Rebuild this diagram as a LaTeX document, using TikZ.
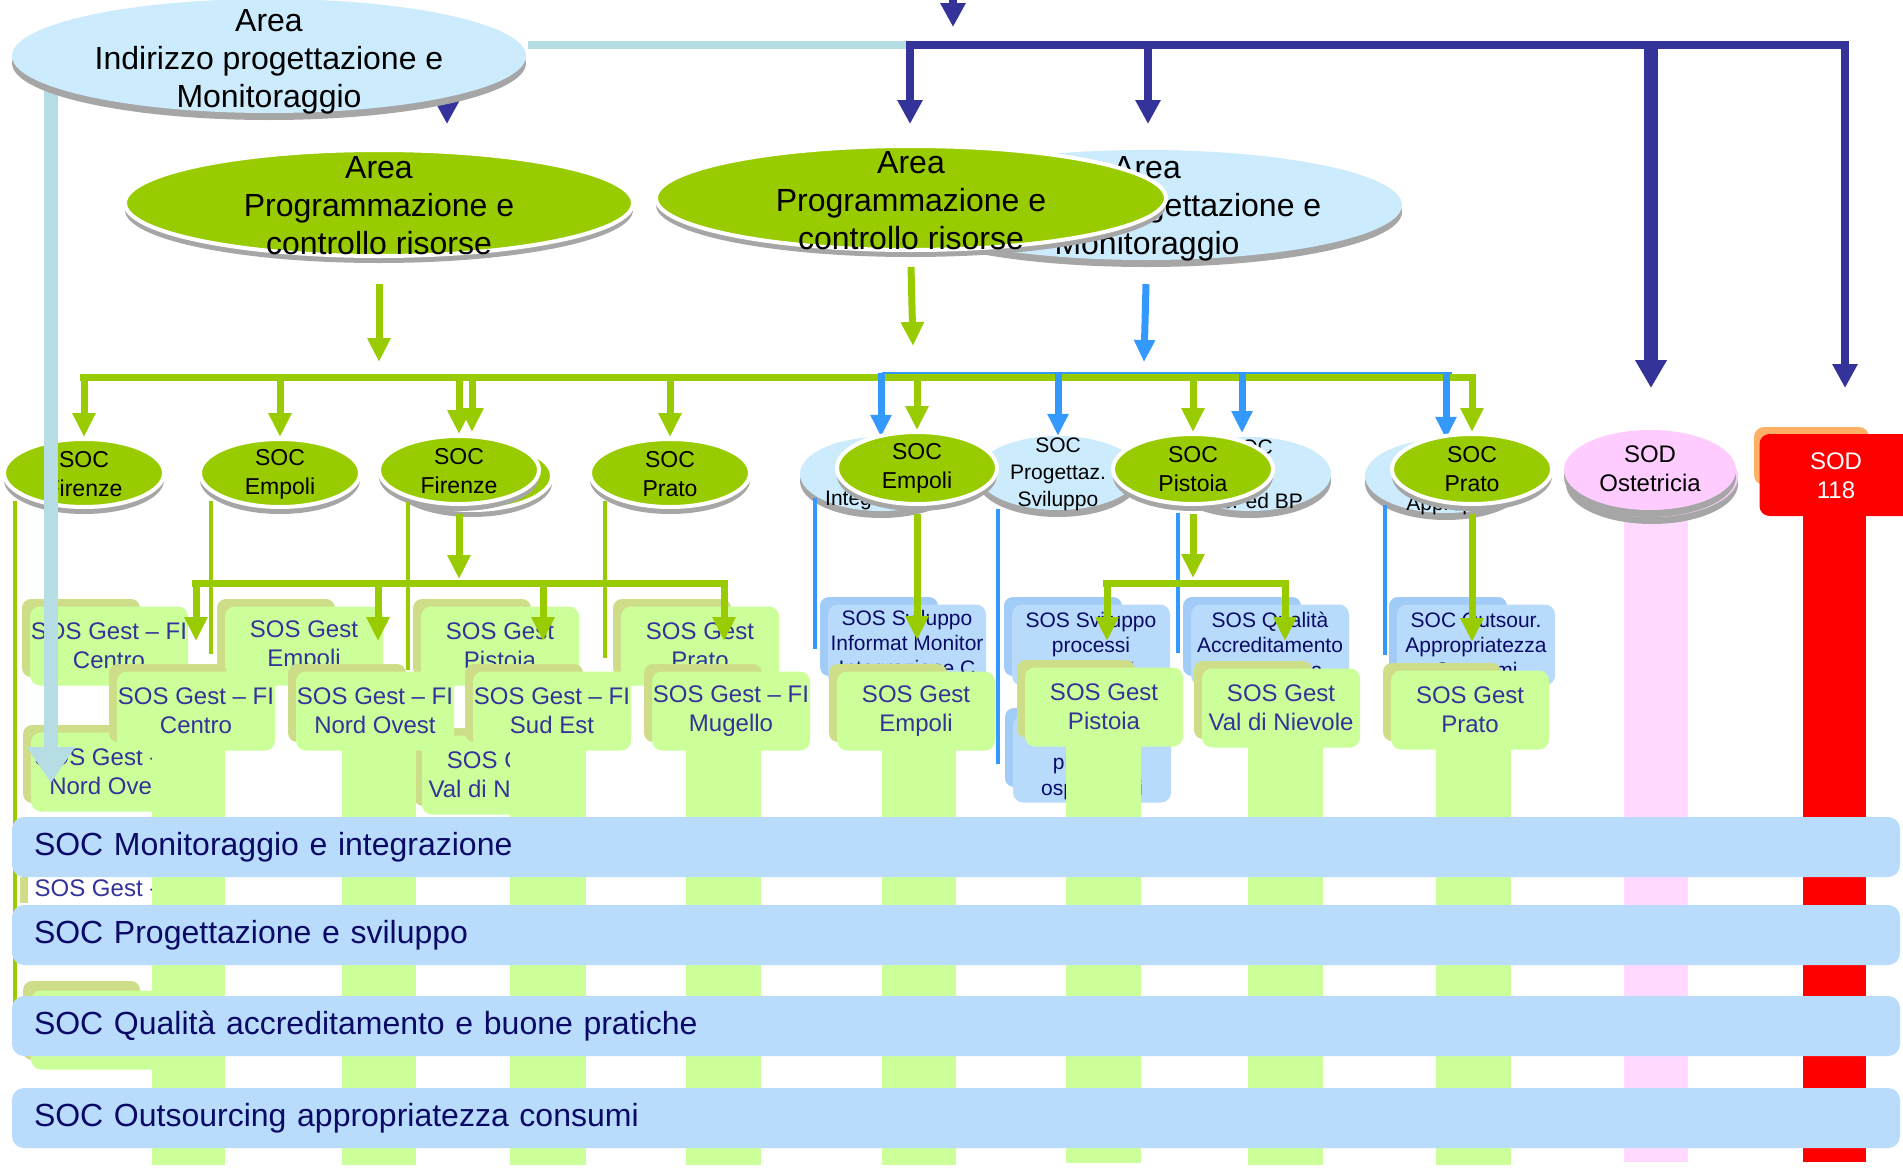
\documentclass[tikz,border=0pt]{standalone}
\usepackage{fontspec}
\setmainfont{Liberation Sans}
\usetikzlibrary{arrows.meta,shapes.geometric,shadows}
\definecolor{cgreen}{HTML}{99CC00}
\definecolor{clblue}{HTML}{CCEBFD}
\definecolor{cnavy}{HTML}{333399}
\definecolor{cteal}{HTML}{B7DDE4}
\definecolor{cgbox}{HTML}{CCFF99}
\definecolor{colive}{HTML}{CEDD88}
\definecolor{cbbox}{HTML}{B8DBFC}
\definecolor{cbshadow}{HTML}{A0CCF7}
\definecolor{cband}{HTML}{B9DCFD}
\definecolor{cbarrow}{HTML}{3399FF}
\definecolor{cpink}{HTML}{FFCCFF}
\definecolor{cpinkp}{HTML}{FFD9FF}
\definecolor{cred}{HTML}{FF0000}
\definecolor{corange}{HTML}{FFB066}
\definecolor{cshadow}{HTML}{A6A6A6}
\definecolor{ctbox}{HTML}{333399}
\definecolor{ctband}{HTML}{0A0A66}
\newcommand\fntArea{\fontsize{32}{38}\selectfont}
\newcommand\fntSoc{\fontsize{23}{29}\selectfont}
\newcommand\fntBox{\fontsize{24}{29}\selectfont}
\newcommand\fntBlue{\fontsize{21}{25}\selectfont}
\newcommand\fntEll{\fontsize{21}{27}\selectfont}
\newcommand\fntBand{\fontsize{32}{38}\selectfont}
\newcommand\greenbox[4]{%
  \fill[colive,rounded corners=9pt] (#2-87,#3-47) rectangle (#2+31,#3+31);
  \node[gbox] (#1) at (#2,#3) {#4};}
\newcommand\bluebox[4]{%
  \fill[cbshadow,rounded corners=9pt] (#2-87,#3-48) rectangle (#2+31,#3+31);
  \node[bbox] (#1) at (#2,#3) {#4};}
\begin{document}
\begin{tikzpicture}[x=1pt,y=-1pt,
  navyline/.style={draw=cnavy, line width=8pt},
  navyarr/.style={draw=cnavy, line width=8pt, -{Triangle[width=24pt,length=24pt]}},
  navythick/.style={draw=cnavy, line width=14pt, -{Triangle[width=30pt,length=28pt]}},
  tealline/.style={draw=cteal, line width=8pt},
  tealarr/.style={draw=cteal, line width=14pt, -{Triangle[width=46pt,length=36pt]}},
  gline/.style={draw=cgreen, line width=7pt},
  garr/.style={draw=cgreen, line width=7pt, -{Triangle[width=22pt,length=24pt]}},
  gthin/.style={draw=cgreen, line width=4pt},
  bline/.style={draw=cbarrow, line width=3pt},
  barr/.style={draw=cbarrow, line width=7pt, -{Triangle[width=20pt,length=22pt]}},
  bthin/.style={draw=cbarrow, line width=4pt},
  shad/.style={drop shadow={shadow xshift=0pt, shadow yshift=-7pt, fill=cshadow, opacity=1}},
  gell/.style={ellipse, fill=cgreen, draw=white, line width=4pt, inner sep=0pt, shad},
  bell/.style={ellipse, fill=clblue, inner sep=0pt, shad},
  pell/.style={ellipse, fill=cpink, inner sep=0pt, shad},
  socell/.style={gell, minimum width=160pt, minimum height=68pt},
  blueell/.style={bell, minimum width=162pt, minimum height=74pt},
  areatxt/.style={align=center, inner sep=0pt, font=\fntArea, text=black},
  soctxt/.style={align=center, inner sep=0pt, font=\fntSoc, text=black},
  elltxt/.style={align=center, inner sep=0pt, font=\fntEll, text=black},
  gbox/.style={rectangle, rounded corners=10pt, fill=cgbox, minimum width=158pt, minimum height=79pt, inner sep=0pt, align=center, font=\fntBox, text=ctbox},
  bbox/.style={rectangle, rounded corners=10pt, fill=cbbox, minimum width=158pt, minimum height=81pt, inner sep=0pt, align=center, font=\fntBlue, text=ctband},
  band/.style={rectangle, rounded corners=12pt, fill=cband, minimum width=1888pt, minimum height=60pt, inner xsep=22pt, text width=1844pt, align=left, font=\fntBand, text=ctband}
]
\path[use as bounding box] (0,0) rectangle (1903,1167);
\fill[white] (0,0) rectangle (1903,1167);

% ---------- top connectors ----------
\coordinate (inS) at (953,0);
\coordinate (inE) at (953,27);
\draw[navyarr] (inS) -- (inE);
\coordinate (tealA) at (528,45);
\coordinate (nvJ) at (906,45);
\coordinate (nvR) at (1849,45);
\draw[tealline] (tealA) -- (nvJ);
\draw[navyline] (nvJ) -- (nvR);
\coordinate (nv1s) at (910,41);   \coordinate (nv1e) at (910,124);
\coordinate (nv2s) at (1148,41);  \coordinate (nv2e) at (1148,124);
\coordinate (nv3s) at (1651,41);  \coordinate (nv3e) at (1651,388);
\coordinate (nv4s) at (1845,41);  \coordinate (nv4e) at (1845,388);
\draw[navyarr] (nv1s) -- (nv1e);
\draw[navyarr] (nv2s) -- (nv2e);
\draw[navythick] (nv3s) -- (nv3e);
\draw[navyarr] (nv4s) -- (nv4e);
\coordinate (nv0s) at (447,70);   \coordinate (nv0e) at (447,124);
\draw[navyarr] (nv0s) -- (nv0e);

% ---------- area ellipses ----------
\node[bell, minimum width=512pt, minimum height=110pt] (ai2) at (1146,205) {};
\node[areatxt] (ai2t) at (1147,209) {Area\\Indirizzo progettazione e\\Monitoraggio};
\node[gell, minimum width=510pt, minimum height=104pt] (ap2) at (911,198) {};
\node[areatxt] (ap2t) at (911,201) {Area\\Programmazione e\\controllo risorse};
\node[gell, minimum width=508pt, minimum height=106pt] (ap1) at (379,203) {};
\node[areatxt] (ap1t) at (379,206) {Area\\Programmazione e\\controllo risorse};

% ---------- buses ----------
\coordinate (bbusL) at (882,373);
\coordinate (bbusR) at (1452,373);
\coordinate (gbusL) at (80,377);
\coordinate (gbusR) at (1476,377);
\draw[garr] ([yshift=-26pt]ap1.south) -- (379,362);
\draw[garr] ([yshift=-15pt]ap2.south) -- (913,346);
\draw[barr] ([yshift=-24pt]ai2.south) -- (1144,362);
\draw[bline] (bbusL) -- (bbusR);
\draw[gline] (gbusL) -- (gbusR);

% ---------- SOD pillars ----------
\fill[cpinkp] (1624,505) rectangle (1688,1162);
\fill[cred] (1803,500) rectangle (1866,1162);

% ---------- SOC row ----------
\node[blueell] (bint) at (881,474) {};
\node[elltxt] (bintt) at (883,500) {Integrazione};
\node[blueell] (bprog) at (1058,473) {};
\node[elltxt] (bprogt) at (1058,474) {SOC\\Progettaz.\\Sviluppo};
\node[blueell] (bqual) at (1250,474) {};
\node[elltxt] (bqualt1) at (1250,447) {SOC};
\node[elltxt] (bqualt2) at (1250,501) {Acc. ed BP};
\node[blueell] (bapp) at (1446,476) {};
\node[elltxt] (bappt) at (1446,505) {Appropr.};

\draw[barr] (bint.north |- bbusL) -- (bint.north);
\draw[barr] (bprog.north |- bbusL) -- (bprog.north);
\draw[barr] (1242,373) -- (1242,433);
\draw[barr] (bapp.north |- bbusL) -- (bapp.north);

\node[socell] (sfiA) at (84,473) {};
\node[soctxt] (sfiAt) at (84,474) {SOC\\Firenze};
\node[socell] (sem1) at (280,473) {};
\node[soctxt] (sem1t) at (280,474) {SOC\\Empoli};
\node[socell] (sfiBb) at (472,476) {};
\node[socell] (sfiB) at (459,470) {};
\node[soctxt] (sfiBt) at (459,471) {SOC\\Firenze};
\node[socell] (spr1) at (670,473) {};
\node[soctxt] (spr1t) at (670,474) {SOC\\Prato};
\node[socell, minimum height=72pt] (sem2) at (917,468) {};
\node[soctxt] (sem2t) at (917,468) {SOC\\Empoli};
\node[socell, minimum height=70pt] (spt) at (1193,469) {};
\node[soctxt] (sptt) at (1193,469) {SOC\\Pistoia};
\node[socell, minimum height=70pt] (spr2) at (1472,469) {};
\node[soctxt] (spr2t) at (1472,469) {SOC\\Prato};

\draw[garr] (sfiA.north |- gbusL) -- (sfiA.north);
\draw[garr] (sem1.north |- gbusL) -- (sem1.north);
\draw[garr] (sfiB.north |- gbusL) -- (sfiB.north);
\draw[garr] (sfiBb.north |- gbusL) -- ([yshift=8pt]sfiBb.north);
\draw[garr] (spr1.north |- gbusL) -- (spr1.north);
\draw[garr] (sem2.north |- gbusL) -- (sem2.north);
\draw[garr] (spt.north |- gbusL) -- (spt.north);
\draw[garr] (spr2.north |- gbusL) -- (spr2.north);

% SOD
\node[pell, minimum width=172pt, minimum height=80pt] (sodb) at (1652,477) {};
\node[pell, minimum width=172pt, minimum height=80pt] (sod) at (1650,470) {};
\node[soctxt, font=\fntBox] (sodt) at (1650,469) {SOD\\Ostetricia};
\fill[corange, rounded corners=10pt] (1754,427) rectangle (1869,485);
\node[rectangle, rounded corners=10pt, fill=cred, minimum width=155pt, minimum height=82pt] (sod118) at (1837,475) {};
\node[align=center, inner sep=0pt, font=\fntBox, text=white] (sod118t) at (1836,476) {SOD\\118};

% ---------- row 1 boxes ----------
\greenbox{b1}{109}{646}{SOS Gest – FI\\Centro}
\greenbox{b2}{304}{646}{SOS Gest\\Empoli}
\greenbox{b3}{500}{646}{SOS Gest\\Pistoia}
\greenbox{b4}{700}{646}{SOS Gest\\Prato}
\bluebox{bb1}{907}{645}{SOS Sviluppo\\Informat Monitor\\Integrazione C}
\bluebox{bb2}{1091}{645}{SOS Sviluppo\\processi\\territoriali}
\bluebox{bb4}{1270}{645}{SOS Qualità\\Accreditamento\\BP Ricerca}
\bluebox{bb5}{1476}{645}{SOC Outsour.\\Appropriatezza\\Consumi}

% ---------- thin connectors under SOC ----------
\draw[gthin] ([xshift=-69pt,yshift=8pt]sfiA.south) -- ++(0,510);
\draw[gthin] ([xshift=-69pt,yshift=8pt]sem1.south) -- ++(0,153);
\draw[gthin] ([xshift=-51pt,yshift=4pt]sfiB.south) -- ++(0,168);
\draw[gthin] ([xshift=-65pt,yshift=8pt]spr1.south) -- ++(0,157);
\draw[bthin] ([xshift=-66pt,yshift=13pt]bint.south) -- ++(0,151);
\draw[bthin] ([xshift=-60pt,yshift=1pt]bprog.south) -- ++(0,255);
\draw[bthin] ([xshift=-72pt,yshift=-2pt]bqual.south) -- ++(0,140);
\draw[bthin] ([xshift=-61pt,yshift=8pt]bapp.south) -- ++(0,150);

\draw[garr] ([yshift=-8pt]sfiB.south) -- ++(0,65);
\coordinate (fbusL) at (192,583);
\coordinate (fbusR) at (728,583);
\draw[gline] (fbusL) -- (fbusR);
\draw[garr] (196,580) -- (196,641);
\draw[garr] (378,580) -- (378,641);
\draw[garr] (543,580) -- (543,641);
\draw[garr] (724,580) -- (724,641);

\draw[garr] ([yshift=-8pt]spt.south) -- ++(0,64);
\coordinate (pbusL) at (1103,583);
\coordinate (pbusR) at (1289,583);
\draw[gline] (pbusL) -- (pbusR);
\draw[garr] (1107,580) -- (1107,641);
\draw[garr] (1285,580) -- (1285,641);

\draw[garr] ([yshift=-8pt]sem2.south) -- ++(0,126);
\draw[garr] ([yshift=-8pt]spr2.south) -- ++(0,128);

% ---------- row 3 / hidden boxes ----------
\greenbox{b9}{110}{772}{SOS Gest - FI\\Nord Ovest}
\greenbox{b10}{501}{775}{SOS Gest\\Val di Nievole}
\fill[cbshadow,rounded corners=9pt] (1005,708) rectangle (1123,787);
\node[bbox, minimum height=87pt] (bb3) at (1092,759) {};
\node[align=center, inner sep=0pt, font=\fontsize{21}{26}\selectfont, text=ctband] (bb3t) at (1092,764) {SOS Sviluppo\\processi\\ospedalieri};
\fill[colive] (20,877) rectangle (28,903);
\node[inner sep=0pt, font=\fntBox, text=ctbox] (b11t) at (110,888) {SOS Gest - FI};
\fill[colive,rounded corners=9pt] (23,981) rectangle (140,1060);
\node[gbox] (b12) at (110,1030) {};

% ---------- pillars ----------
\fill[cgbox] (152,728) rectangle (225,1165);
\fill[cgbox] (342,745) rectangle (416,1165);
\fill[cgbox] (510,728) rectangle (586,1165);
\fill[cgbox] (686,745) rectangle (761,1165);
\fill[cgbox] (882,745) rectangle (956,1165);
\fill[cgbox] (1066,745) rectangle (1141,1163);
\fill[cgbox] (1248,745) rectangle (1323,1165);
\fill[cgbox] (1436,745) rectangle (1511,1165);

% ---------- row 2 boxes ----------
\greenbox{b5}{196}{711}{SOS Gest – FI\\Centro}
\greenbox{b6}{375}{711}{SOS Gest – FI\\Nord Ovest}
\greenbox{b7}{552}{711}{SOS Gest – FI\\Sud Est}
\greenbox{b8}{731}{711}{SOS Gest – FI\\Mugello}
\greenbox{g9}{916}{711}{SOS Gest\\Empoli}
\greenbox{g10}{1104}{707}{SOS Gest\\Pistoia}
\greenbox{g11}{1281}{708}{SOS Gest\\Val di Nievole}
\greenbox{g12}{1470}{710}{SOS Gest\\Prato}

% ---------- teal arrow and first area ----------
\coordinate (tealS) at (51,90);
\coordinate (tealE) at (51,783);
\draw[tealarr] (tealS) -- (tealE);
\node[bell, minimum width=514pt, minimum height=114pt] (ai1) at (269,56) {};
\node[areatxt] (ai1t) at (269,62) {Area\\Indirizzo progettazione e\\Monitoraggio};

% ---------- bands ----------
\node[band] (band1) at (956,847) {SOC Monitoraggio e integrazione};
\node[band] (band2) at (956,935) {SOC Progettazione e sviluppo};
\node[band] (band3) at (956,1026) {SOC Qualità accreditamento e buone pratiche};
\node[band] (band4) at (956,1118) {SOC Outsourcing appropriatezza consumi};
\end{tikzpicture}
\end{document}
